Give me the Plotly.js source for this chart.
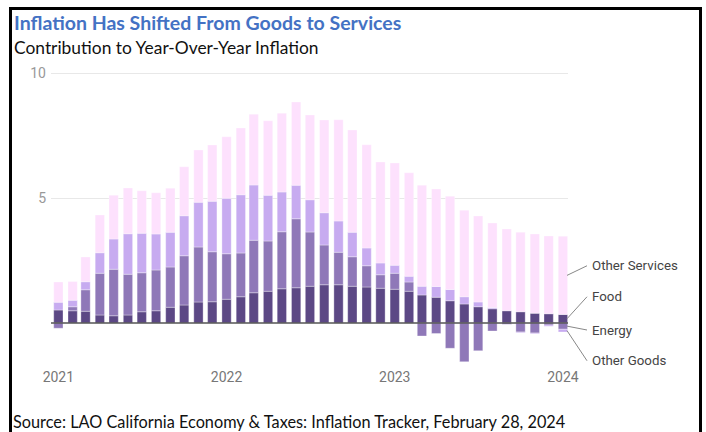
<!DOCTYPE html>
<html>
<head>
<meta charset="utf-8">
<script src="https://cdn.plot.ly/plotly-3.0.1.min.js"></script>
<style>
  html, body { margin: 0; padding: 0; background: #fff; }
  #wrap { position: relative; width: 706px; height: 432px; overflow: hidden; }
  #chart { width: 706px; height: 432px; }
  #frame { position: absolute; left: 9px; top: 7px; width: 693px; height: 460px;
           border: 3px solid #000; box-sizing: border-box; pointer-events: none; }
</style>
</head>
<body>
<div id="wrap"><div id="chart"></div><div id="frame"></div></div>
<script>
// Months (Jan 2021 - Jan 2024)
const months = [
  "2021-01-01","2021-02-01","2021-03-01","2021-04-01","2021-05-01","2021-06-01",
  "2021-07-01","2021-08-01","2021-09-01","2021-10-01","2021-11-01","2021-12-01",
  "2022-01-01","2022-02-01","2022-03-01","2022-04-01","2022-05-01","2022-06-01",
  "2022-07-01","2022-08-01","2022-09-01","2022-10-01","2022-11-01","2022-12-01",
  "2023-01-01","2023-02-01","2023-03-01","2023-04-01","2023-05-01","2023-06-01",
  "2023-07-01","2023-08-01","2023-09-01","2023-10-01","2023-11-01","2023-12-01",
  "2024-01-01"
];
// Contribution to year-over-year inflation (percentage points)
const food = [
  0.52,0.49,0.47,0.32,0.29,0.32,0.45,0.49,0.63,0.72,0.84,0.85,
  0.95,1.05,1.21,1.27,1.37,1.41,1.47,1.53,1.53,1.47,1.44,1.39,
  1.35,1.27,1.12,1.03,0.89,0.76,0.65,0.57,0.49,0.45,0.39,0.37,
  0.34
];
const energy = [
  -0.21,0.16,0.86,1.67,1.86,1.63,1.56,1.63,1.61,1.97,2.20,2.00,
  1.82,1.75,2.10,2.01,2.28,2.76,2.17,1.59,1.30,1.18,0.85,0.54,
  0.64,0.37,-0.52,-0.42,-1.01,-1.55,-1.11,-0.32,-0.06,-0.36,-0.40,-0.08,
  -0.25
];
const otherGoods = [
  0.31,0.26,0.32,0.82,1.21,1.62,1.58,1.44,1.39,1.60,1.79,2.02,
  2.22,2.33,2.21,1.83,1.59,1.34,1.29,1.29,1.25,0.98,0.71,0.47,
  0.32,0.23,0.35,0.43,0.45,0.29,0.19,0.05,-0.01,-0.03,-0.03,-0.05,
  -0.11
];
const otherServices = [
  0.81,0.75,0.99,1.51,1.75,1.83,1.70,1.65,1.76,1.96,2.09,2.25,
  2.46,2.67,2.83,2.98,3.15,3.33,3.39,3.71,4.05,4.09,4.13,4.04,
  4.09,4.14,4.04,3.90,3.73,3.46,3.44,3.38,3.27,3.18,3.17,3.11,
  3.13
];
const seriesNames = ["Food","Energy","Other Goods","Other Services"];
const xTickVals = ["2021-01-01","2022-01-01","2023-01-01","2024-01-01"];
const xTickText = ["2021","2022","2023","2024"];
const yTickVals = [5,10];
const yTickText = ["5","10"];

const colors = ["#5c4885","#8f78b8","#c7abf0","#fde1fd"];
const series = [food, energy, otherGoods, otherServices];
const barWidth = 20.2 * 86400000;

const traces = series.map((vals, i) => ({
  type: "bar",
  name: seriesNames[i],
  x: months,
  y: vals,
  width: barWidth,
  marker: { color: colors[i], line: { width: 0.6, color: "rgba(255,255,255,0.55)" } },
  hoverinfo: "skip"
}));

// label positions (layout, in y units) for right-side labels
const labelY = [1.05, -0.28, -1.51, 2.29];
// start of leader lines: middle of each segment of the last bar
const last = months.length - 1;
function segMid(idx) {
  let pos = 0, neg = 0, mid = 0;
  for (let k = 0; k <= idx; k++) {
    const v = series[k][last];
    if (v >= 0) { if (k === idx) mid = pos + v / 2; pos += v; }
    else { if (k === idx) mid = neg + v / 2; neg += v; }
  }
  return mid;
}

const L = 51, R = 568, T = 58, B = 367;
const px = X => (X - L) / (R - L);
const py = Y => (B - Y) / (B - T);

const annotations = [
  { text: "<b>Inflation Has Shifted From Goods to Services</b>", xref: "paper", yref: "paper",
    x: px(12), y: py(22.5), xanchor: "left", yanchor: "middle", showarrow: false,
    font: { family: "Lato", size: 19.5, color: "#4472c4" } },
  { text: "Contribution to Year-Over-Year Inflation", xref: "paper", yref: "paper",
    x: px(12), y: py(47), xanchor: "left", yanchor: "middle", showarrow: false,
    font: { family: "Lato", size: 17.4, color: "#111" } },
  { text: "Source: LAO California Economy & Taxes: Inflation Tracker, February 28, 2024", xref: "paper", yref: "paper",
    x: px(11), y: py(421), xanchor: "left", yanchor: "middle", showarrow: false,
    font: { family: "Lato", size: 16.3, color: "#111" } }
];
const shapes = [
  { type: "line", xref: "paper", yref: "y", x0: 0, x1: 1, y0: 0, y1: 0, layer: "above",
    line: { color: "#555", width: 1.3 } }
];
seriesNames.forEach((nm, i) => {
  annotations.push({ text: nm, xref: "paper", yref: "y", x: px(590), y: labelY[i],
    xanchor: "left", yanchor: "middle", showarrow: false,
    font: { family: "Roboto", size: 13.3, color: "#444" } });
  shapes.push({ type: "line", xref: "paper", yref: "y", x0: px(567), x1: px(587),
    y0: segMid(i), y1: labelY[i], line: { color: "#888", width: 1 } });
});

const layout = {
  width: 706, height: 432,
  margin: { l: L, r: 706 - R, t: T, b: 432 - B, pad: 0 },
  paper_bgcolor: "#fff", plot_bgcolor: "#fff",
  barmode: "relative",
  showlegend: false,
  xaxis: {
    type: "date",
    range: ["2020-12-16", "2024-01-12"],
    tickvals: xTickVals, ticktext: xTickText,
    showgrid: false, zeroline: false, showline: false, ticks: "",
    tickfont: { family: "Roboto", size: 14, color: "#777" }
  },
  yaxis: {
    range: [-(B - 323) / 25, (323 - T) / 25],
    tickvals: yTickVals, ticktext: yTickText,
    showgrid: true, gridcolor: "#e8e8e8", gridwidth: 1,
    zeroline: false, showline: false, ticks: "",
    ticklabelstandoff: 4,
    tickfont: { family: "Roboto", size: 14, color: "#999" }
  },
  annotations: annotations,
  shapes: shapes
};

Plotly.newPlot("chart", traces, layout, { displayModeBar: false, staticPlot: true });
</script>
</body>
</html>
